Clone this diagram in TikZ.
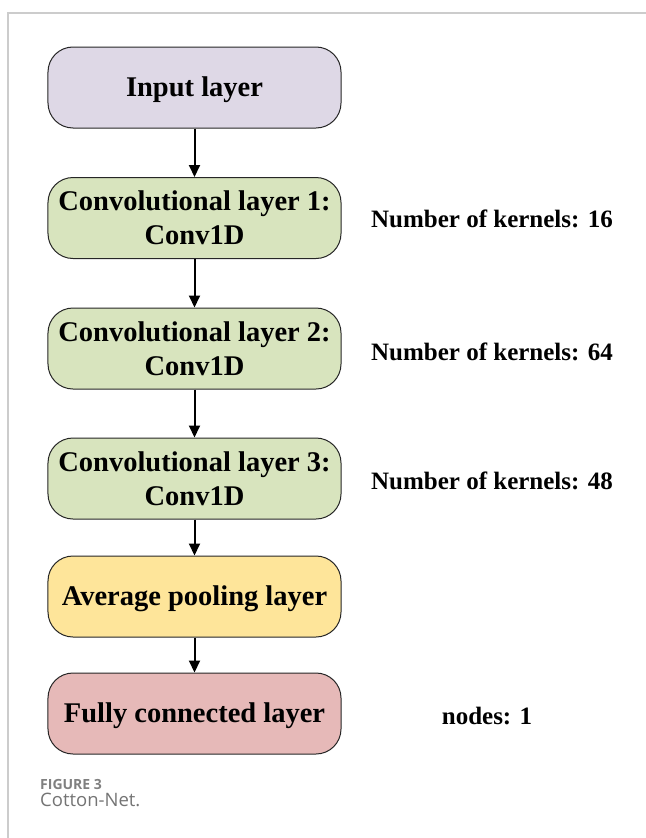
\documentclass[tikz,border=0pt]{standalone}
\usepackage{fontspec}
\setmainfont{Liberation Serif}
\newfontfamily\capfont{Open Sans}
\usetikzlibrary{arrows.meta}

\definecolor{framegray}{HTML}{CCCCCC}
\definecolor{inputfill}{HTML}{DED8E6}
\definecolor{convfill}{HTML}{D8E4BE}
\definecolor{poolfill}{HTML}{FEE59A}
\definecolor{fcfill}{HTML}{E6B9B8}
\definecolor{capgray}{HTML}{808080}
\definecolor{capgraylight}{HTML}{747474}

\tikzset{
  layerbox/.style={draw=black!85, line width=1bp, rounded corners=25bp,
    minimum width=293bp, minimum height=81bp, inner sep=0pt, align=center,
    font=\fontsize{28.5bp}{34bp}\selectfont\bfseries},
  oneline/.style={text height=17.5bp, text depth=0bp},
  twoline/.style={text height=53.5bp, text depth=0bp},
  sidelabel/.style={inner sep=0pt, anchor=center,
    font=\fontsize{25bp}{30bp}\selectfont\bfseries},
  flow/.style={-{Triangle[length=12bp,width=11bp]}, line width=2bp, black},
}

\begin{document}
\begin{tikzpicture}[x=1bp, y=-1bp]
  \useasboundingbox (0,0) rectangle (646,838);

  % outer panel border
  \draw[framegray, line width=1.2bp] (8,838) -- (8,13) -- (646,13);

  % layers
  \node[layerbox, oneline, fill=inputfill] (inp) at (194.5,87.5) {Input layer};
  \node[layerbox, twoline, fill=convfill] (c1) at (194.5,218) {Convolutional layer 1:\\Conv1D};
  \node[layerbox, twoline, fill=convfill] (c2) at (194.5,348.5) {Convolutional layer 2:\\Conv1D};
  \node[layerbox, twoline, fill=convfill] (c3) at (194.5,478.5) {Convolutional layer 3:\\Conv1D};
  \node[layerbox, oneline, fill=poolfill] (pool) at (194.5,596.5) {Average pooling layer};
  \node[layerbox, oneline, fill=fcfill] (fc) at (194.5,713.5) {Fully connected layer};

  % connectors
  \draw[flow] (inp.south) -- (c1.north);
  \draw[flow] (c1.south) -- (c2.north);
  \draw[flow] (c2.south) -- (c3.north);
  \draw[flow] (c3.south) -- (pool.north);
  \draw[flow] (pool.south) -- (fc.north);

  % side annotations
  \node[sidelabel] (k1) at (492,219) {Number of kernels: 16};
  \node[sidelabel] (k2) at (492,352) {Number of kernels: 64};
  \node[sidelabel] (k3) at (492,481) {Number of kernels: 48};
  \node[sidelabel] (nd) at (487,716) {nodes: 1};

  % caption
  \node[anchor=base west, inner sep=0pt, text=capgray,
        font=\capfont\fontsize{14bp}{16bp}\selectfont\bfseries] (fig) at (40,789) {FIGURE 3};
  \node[anchor=base west, inner sep=0pt, text=capgraylight,
        font=\capfont\fontsize{18.5bp}{20bp}\selectfont] (title) at (40,806.5) {Cotton-Net.};
\end{tikzpicture}
\end{document}
